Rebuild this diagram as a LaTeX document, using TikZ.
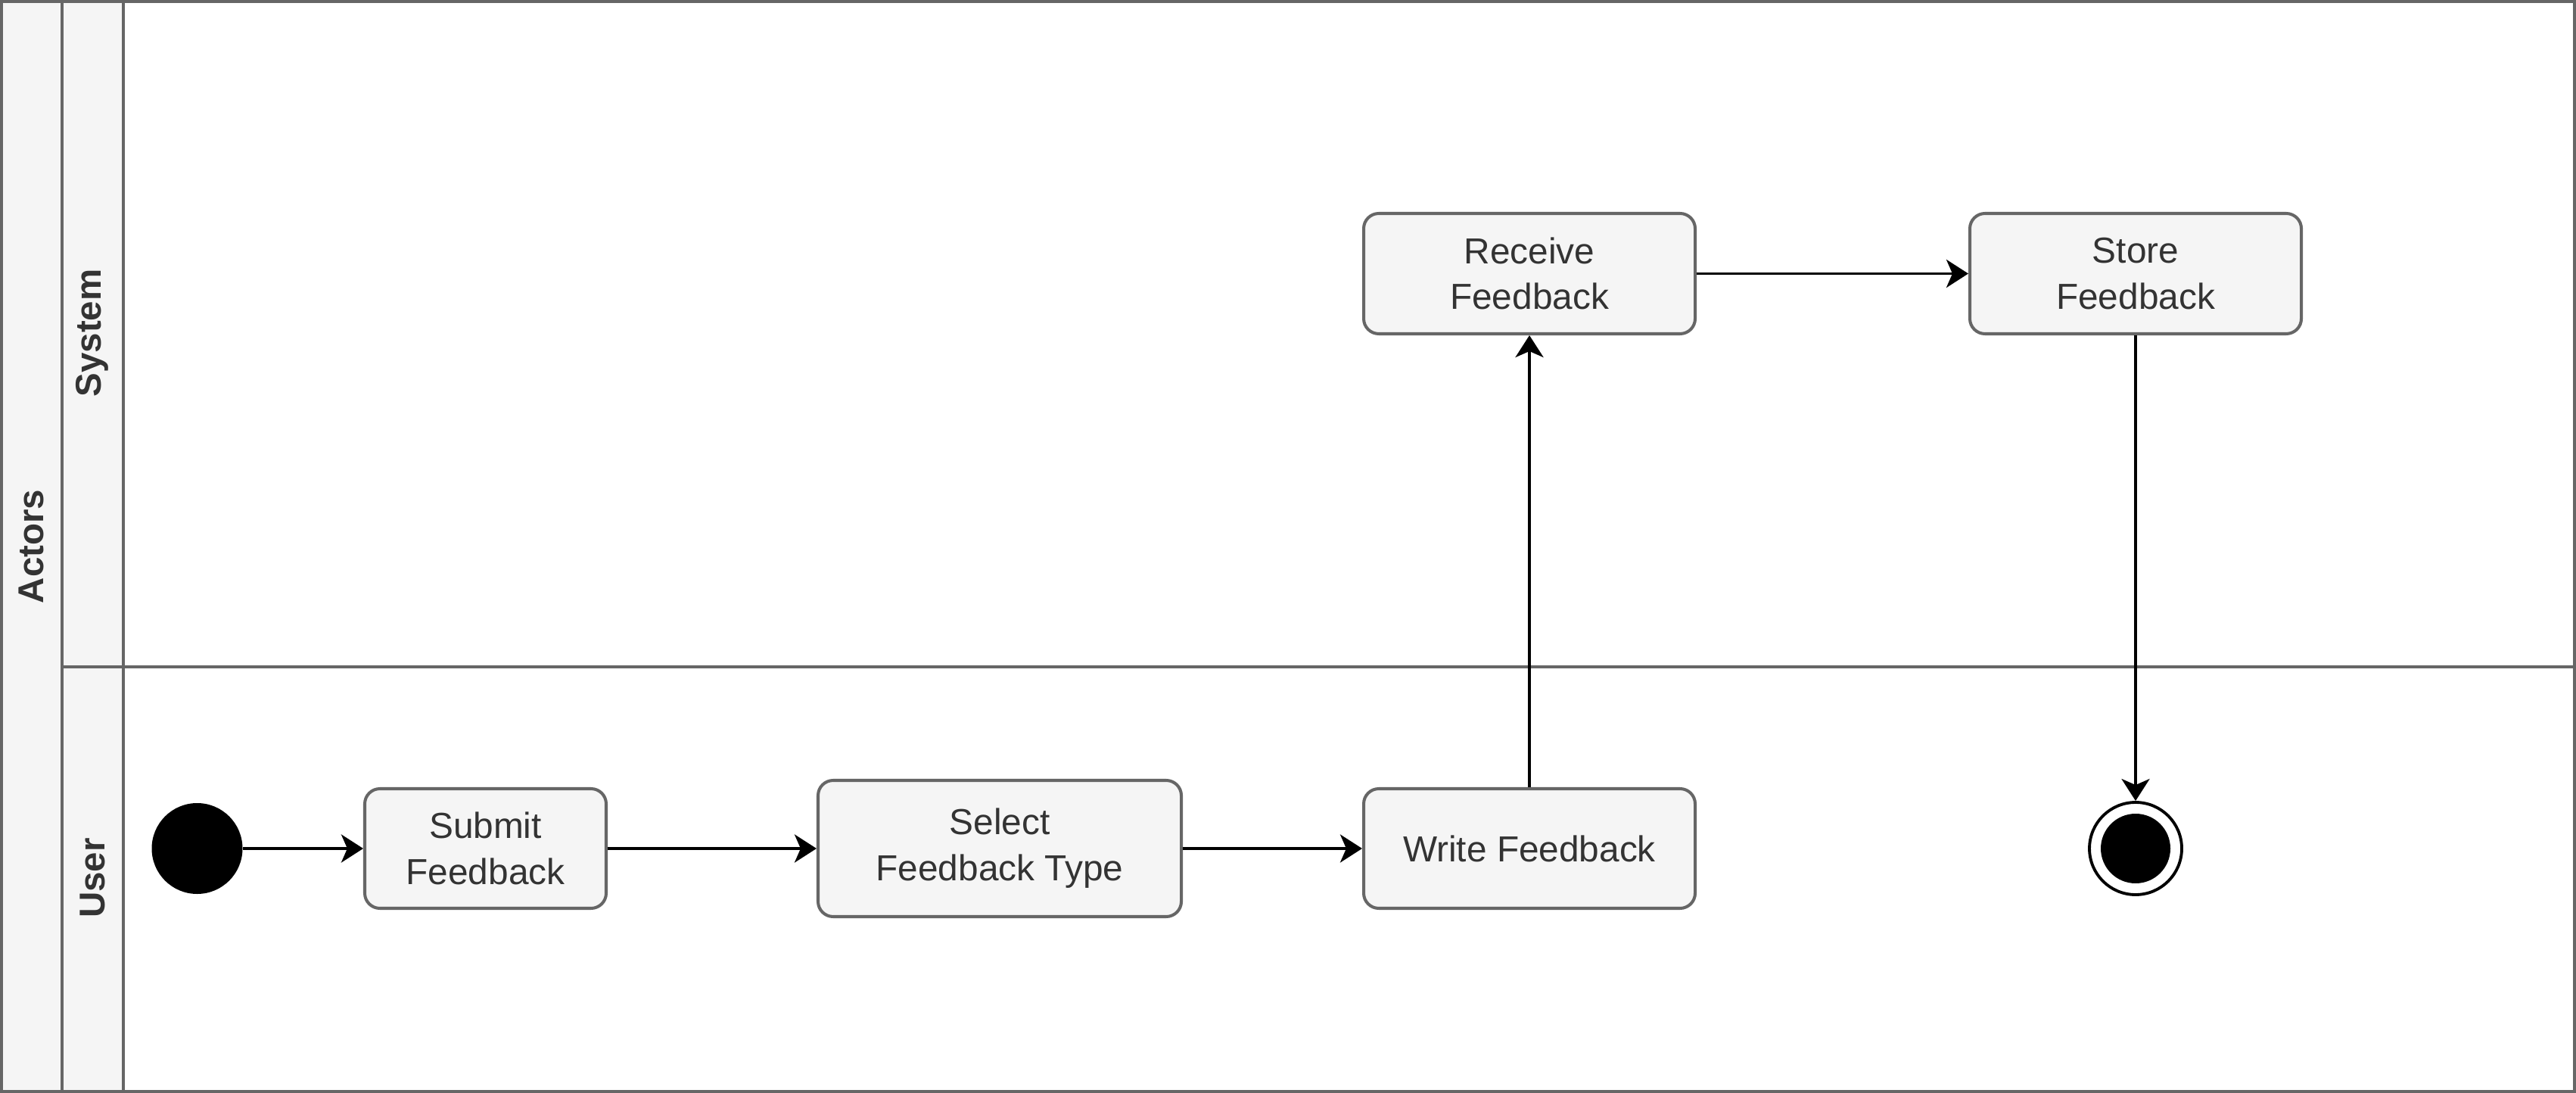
\documentclass[tikz,border=0pt]{standalone}
\usepackage{fontspec}
\setmainfont{Liberation Sans}
\usetikzlibrary{arrows.meta}
\definecolor{hdrfill}{HTML}{F5F5F5}
\definecolor{hdrline}{HTML}{666666}
\definecolor{txt}{HTML}{333333}
\tikzset{
  lane/.style={draw=hdrline, line width=1.15pt, fill=hdrfill},
  lanelabel/.style={text=txt, font=\fontsize{13.5}{16.5}\selectfont\bfseries, rotate=90, inner sep=0pt},
  act/.style={draw=hdrline, line width=1.15pt, fill=hdrfill, rounded corners=0.2cm, text=txt,
    font=\fontsize{13.6}{17.3}\selectfont, align=center, inner sep=0pt},
  flow/.style={draw=black, line width=1.1pt, -{Stealth[length=0.29cm, width=0.37cm, inset=0.08cm]}},
}
\begin{document}
\begin{tikzpicture}
\useasboundingbox (0,0) rectangle (34.04,-14.44);
% pool
\fill[white] (0,0) rectangle (34.04,-14.44);
\path[lane] (0.02,-0.02) rectangle (0.82,-14.42);
\path[lane] (0.82,-0.02) rectangle (1.63,-14.42);
\draw[hdrline, line width=1.15pt] (0.02,-0.02) rectangle (34.02,-14.42);
\draw[hdrline, line width=1.15pt] (0.82,-8.81) -- (34.02,-8.81);
\node[lanelabel] (actors) at (0.41,-7.22) {Actors};
\node[lanelabel] (system) at (1.22,-4.40) {System};
\node[lanelabel] (user) at (1.22,-11.60) {User};
% nodes
\node[circle, fill=black, minimum size=1.2cm, inner sep=0pt] (start) at (2.605,-11.21) {};
\node[act, minimum width=3.19cm, minimum height=1.58cm] (submit) at (6.415,-11.21) {Submit\\Feedback};
\node[act, minimum width=4.80cm, minimum height=1.80cm] (select) at (13.21,-11.21) {Select\\ Feedback Type};
\node[act, minimum width=4.38cm, minimum height=1.58cm] (write) at (20.21,-11.21) {Write Feedback};
\node[act, minimum width=4.38cm, minimum height=1.59cm] (receive) at (20.21,-3.615) {Receive\\Feedback};
\node[act, minimum width=4.38cm, minimum height=1.59cm] (store) at (28.22,-3.615) {Store\\Feedback};
\node[circle, draw=black, line width=1.1pt, fill=white, minimum size=1.22cm, inner sep=0pt] (end) at (28.22,-11.21) {};
\node[circle, fill=black, minimum size=0.92cm, inner sep=0pt] (endin) at (end.center) {};
% flows
\draw[flow] (start) -- (submit);
\draw[flow] (submit) -- (select);
\draw[flow] (select) -- (write);
\draw[flow] (write) -- (receive);
\draw[flow] (receive) -- (store);
\draw[flow] (store) -- (end);
\end{tikzpicture}
\end{document}
